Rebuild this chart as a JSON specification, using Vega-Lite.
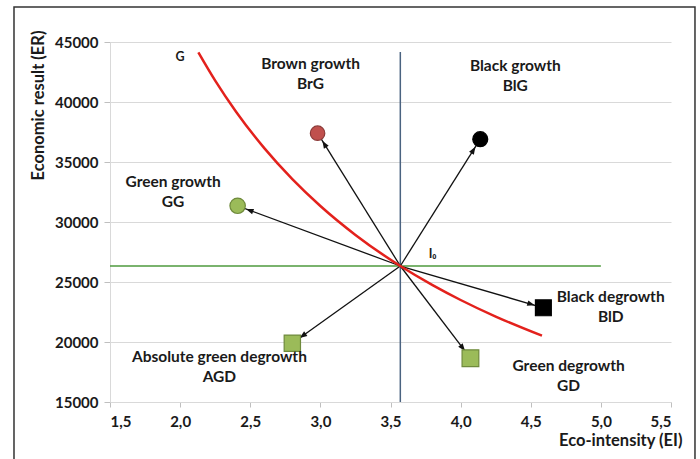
{
  "$schema": "https://vega.github.io/schema/vega-lite/v6.json",
  "width": 561,
  "height": 360,
  "autosize": {"type": "none"},
  "padding": {"left": 110, "top": 42, "right": 29, "bottom": 57},
  "background": "#ffffff",
  "config": {"view": {"stroke": null}, "font": "Lato"},
  "datasets": {
    "curve": [
      {"x": 2.13, "y": 44131}, {"x": 2.25, "y": 41778}, {"x": 2.4, "y": 39167},
      {"x": 2.6, "y": 36154}, {"x": 2.8, "y": 33571}, {"x": 3.0, "y": 31333},
      {"x": 3.25, "y": 28923}, {"x": 3.57, "y": 26331}, {"x": 3.8, "y": 24737},
      {"x": 4.0, "y": 23500}, {"x": 4.25, "y": 22118}, {"x": 4.58, "y": 20524}
    ],
    "pts": [
      {"id": "BrG", "x": 2.98, "y": 37400},
      {"id": "BlG", "x": 4.14, "y": 36900},
      {"id": "GG", "x": 2.41, "y": 31350},
      {"id": "BlD", "x": 4.59, "y": 22850},
      {"id": "AGD", "x": 2.8, "y": 19900},
      {"id": "GD", "x": 4.07, "y": 18650}
    ],
    "labels": [
      {"t": "Brown growth\nBrG", "x": 2.93, "y": 43750},
      {"t": "Black growth\nBlG", "x": 4.39, "y": 43583},
      {"t": "Green growth\nGG", "x": 1.95, "y": 33917},
      {"t": "Black degrowth\nBlD", "x": 5.07, "y": 24333},
      {"t": "Green degrowth\nGD", "x": 4.77, "y": 18583},
      {"t": "Absolute green degrowth\nAGD", "x": 2.28, "y": 19333}
    ],
    "small": [
      {"t": "G", "x": 2.0, "y": 44250},
      {"t": "I₀", "x": 3.8, "y": 27833}
    ],
    "frame": [{"x": 0.8155, "x2": 5.671, "y": 47917, "y2": 9000}],
    "vline": [{"x": 3.57, "y": 15000, "y2": 44167}],
    "hline": [{"x": 1.5, "x2": 5.0, "y": 26333}]
  },
  "layer": [
    {
      "data": {"name": "vline"},
      "mark": {"type": "rule", "color": "#4a6380", "strokeWidth": 1.5},
      "encoding": {
        "x": {"field": "x", "type": "quantitative",
          "scale": {"domain": [1.5, 5.5], "nice": false, "zero": false},
          "axis": {
            "values": [1.5, 2, 2.5, 3, 3.5, 4, 4.5, 5, 5.5],
            "labelExpr": "replace(format(datum.value, '.1f'), '.', ',')",
            "grid": false,
            "domainColor": "#d9d9d9",
            "tickColor": "#bfbfbf",
            "tickSize": 5,
            "labelPadding": 7,
            "labelFontSize": 15,
            "labelFontWeight": "bold",
            "labelColor": "#1a1a1a",
            "title": "Eco-intensity (EI)",
            "titleFontSize": 16.5,
            "titleFontWeight": "bold",
            "titleColor": "#1a1a1a",
            "titleAlign": "right",
            "titleAnchor": null,
            "titleX": 572,
            "titleY": 38,
            "titleBaseline": "middle"
          }
        },
        "y": {"field": "y", "type": "quantitative",
          "scale": {"domain": [15000, 45000], "nice": false, "zero": false},
          "axis": {
            "values": [15000, 20000, 25000, 30000, 35000, 40000, 45000],
            "format": "d",
            "grid": true,
            "gridColor": "#d9d9d9",
            "domainColor": "#d9d9d9",
            "tickColor": "#bfbfbf",
            "tickSize": 6,
            "labelPadding": 6,
            "labelFontSize": 15,
            "labelFontWeight": "bold",
            "labelColor": "#1a1a1a",
            "title": "Economic result (ER)",
            "titleFontSize": 16.5,
            "titleFontWeight": "bold",
            "titleColor": "#1a1a1a",
            "titleAngle": -90,
            "titleAlign": "center",
            "titleBaseline": "middle",
            "titleAnchor": null,
            "titleX": -72,
            "titleY": 63
          }
        },
        "y2": {"field": "y2"}
      }
    },
    {
      "data": {"name": "frame"},
      "mark": {"type": "rect", "fill": null, "stroke": "#333333", "strokeWidth": 1.5, "clip": false},
      "encoding": {
        "x": {"field": "x", "type": "quantitative"},
        "x2": {"field": "x2"},
        "y": {"field": "y", "type": "quantitative"},
        "y2": {"field": "y2"}
      }
    },
    {
      "data": {"name": "hline"},
      "mark": {"type": "rule", "color": "#4e9a3e", "strokeWidth": 1.5},
      "encoding": {
        "x": {"field": "x", "type": "quantitative"},
        "x2": {"field": "x2"},
        "y": {"field": "y", "type": "quantitative"}
      }
    },
    {
      "data": {"name": "pts"},
      "mark": {"type": "rule", "color": "#111111", "strokeWidth": 1.3},
      "encoding": {
        "x": {"field": "x", "type": "quantitative"},
        "y": {"field": "y", "type": "quantitative"},
        "x2": {"datum": 3.57},
        "y2": {"datum": 26333}
      }
    },
    {
      "data": {"name": "curve"},
      "mark": {"type": "line", "color": "#e3211c", "strokeWidth": 2.5, "interpolate": "monotone"},
      "encoding": {
        "x": {"field": "x", "type": "quantitative"},
        "y": {"field": "y", "type": "quantitative"}
      }
    },
    {
      "data": {"name": "pts"},
      "transform": [
        {"calculate": "atan2((3.57 - datum.x) * 140.25, (26333 - datum.y) * 0.012) * 180 / PI", "as": "ang"}
      ],
      "mark": {"type": "point", "filled": true, "color": "#111111", "opacity": 1,
        "shape": "M0,-0.9L-0.28,-1.65L0.28,-1.65Z", "size": 400},
      "encoding": {
        "x": {"field": "x", "type": "quantitative"},
        "y": {"field": "y", "type": "quantitative"},
        "angle": {"field": "ang", "type": "quantitative", "scale": null}
      }
    },
    {
      "data": {"name": "pts"},
      "mark": {"type": "point", "filled": true, "opacity": 1, "strokeWidth": 1.2},
      "encoding": {
        "x": {"field": "x", "type": "quantitative"},
        "y": {"field": "y", "type": "quantitative"},
        "color": {"field": "id", "type": "nominal", "legend": null,
          "scale": {"domain": ["BrG", "BlG", "GG", "BlD", "AGD", "GD"],
            "range": ["#c0504d", "#000000", "#9bbb59", "#000000", "#9bbb59", "#9bbb59"]}},
        "stroke": {"field": "id", "type": "nominal", "legend": null,
          "scale": {"domain": ["BrG", "BlG", "GG", "BlD", "AGD", "GD"],
            "range": ["#8b3a38", "#000000", "#6f8a3c", "#000000", "#6f8a3c", "#6f8a3c"]}},
        "shape": {"field": "id", "type": "nominal", "legend": null,
          "scale": {"domain": ["BrG", "BlG", "GG", "BlD", "AGD", "GD"],
            "range": ["circle", "circle", "circle", "square", "square", "square"]}},
        "size": {"field": "id", "type": "nominal", "legend": null,
          "scale": {"domain": ["BrG", "BlG", "GG", "BlD", "AGD", "GD"],
            "range": [210, 280, 210, 190, 180, 180]}}
      }
    },
    {
      "data": {"name": "labels"},
      "mark": {"type": "text", "font": "Lato", "fontSize": 15.5, "fontWeight": "bold",
        "color": "#1a1a1a", "align": "center", "baseline": "top", "lineBreak": "\n", "lineHeight": 20},
      "encoding": {
        "x": {"field": "x", "type": "quantitative"},
        "y": {"field": "y", "type": "quantitative"},
        "text": {"field": "t"}
      }
    },
    {
      "data": {"name": "small"},
      "mark": {"type": "text", "font": "Lato", "fontSize": 12.5, "fontWeight": "bold",
        "color": "#1a1a1a", "align": "center", "baseline": "top"},
      "encoding": {
        "x": {"field": "x", "type": "quantitative"},
        "y": {"field": "y", "type": "quantitative"},
        "text": {"field": "t"}
      }
    }
  ]
}
